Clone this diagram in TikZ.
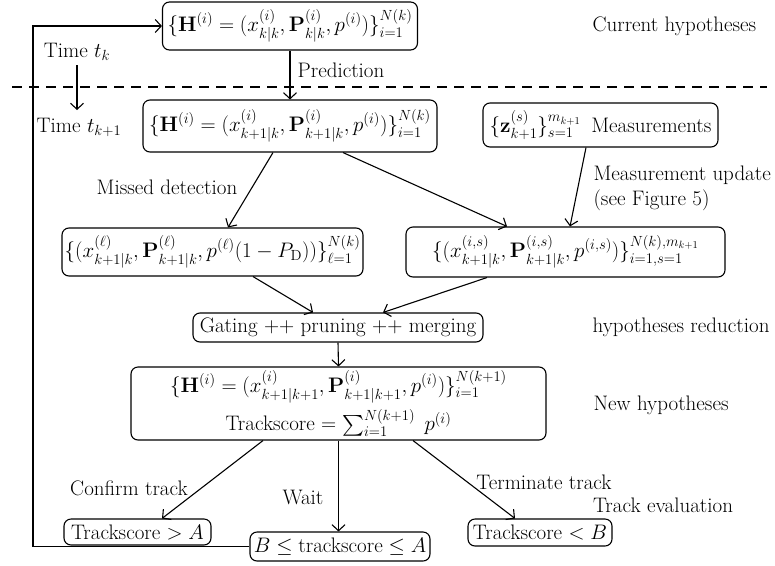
\RequirePackage{fix-cm}
\documentclass[tikz,border=0pt]{standalone}
\usepackage{amsmath}
\usetikzlibrary{arrows.meta,calc}
\begin{document}
\begin{tikzpicture}[x=1pt,y=-1pt,line width=1.1pt,
  every node/.style={font=\fontsize{21}{25}\selectfont},
  box/.style={draw,rounded corners=7pt,inner sep=0pt},
  lbl/.style={inner sep=0pt},
  arr/.style={-{Straight Barb[length=6pt,width=13pt]}}]
\useasboundingbox (0,0) rectangle (775,565);
% boxes
\node[box,minimum width=255pt,minimum height=48pt] (top) at (290,26)
  {$\{\mathbf{H}^{(i)}=(x^{(i)}_{k|k},\mathbf{P}^{(i)}_{k|k},p^{(i)})\}^{N(k)}_{i=1}$};
\node[box,minimum width=294pt,minimum height=52pt] (pred) at (290,126)
  {$\{\mathbf{H}^{(i)}=(x^{(i)}_{k+1|k},\mathbf{P}^{(i)}_{k+1|k},p^{(i)})\}^{N(k)}_{i=1}$};
\node[box,minimum width=235pt,minimum height=44pt] (meas) at (600.5,125)
  {$\{\mathbf{z}^{(s)}_{k+1}\}^{m_{k+1}}_{s=1}$\enspace Measurements};
\node[box,minimum width=301pt,minimum height=48pt] (miss) at (212.5,252)
  {$\{(x^{(\ell)}_{k+1|k},\mathbf{P}^{(\ell)}_{k+1|k},p^{(\ell)}(1-P_{\mathrm{D}}))\}^{N(k)}_{\ell=1}$};
\node[box,minimum width=319pt,minimum height=50pt] (upd) at (565.5,252)
  {$\{(x^{(i,s)}_{k+1|k},\mathbf{P}^{(i,s)}_{k+1|k},p^{(i,s)})\}^{N(k),m_{k+1}}_{i=1,s=1}$};
\node[box,minimum width=290pt,minimum height=29pt] (gate) at (338,327.5)
  {Gating ++ pruning ++ merging};
\node[box,minimum width=415pt,minimum height=73pt,align=center] (new) at (338.5,403.5)
  {$\{\mathbf{H}^{(i)}=(x^{(i)}_{k+1|k+1},\mathbf{P}^{(i)}_{k+1|k+1},p^{(i)})\}^{N(k+1)}_{i=1}$\\[5pt]
   Trackscore $=\sum_{i=1}^{N(k+1)}\;p^{(i)}$};
\node[box,minimum width=147pt,minimum height=26pt] (conf) at (137.5,532) {Trackscore $>A$};
\node[box,minimum width=180pt,minimum height=29pt] (wait) at (340,546.5) {$B\le{}$trackscore${}\le A$};
\node[box,minimum width=144pt,minimum height=27pt] (term) at (540,532.5) {Trackscore $<B$};
% labels
\node[lbl,anchor=west] (lcur) at (592,26) {Current hypotheses};
\node[lbl] (tk) at (77,52) {Time $t_k$};
\node[lbl] (tk1) at (79,127) {Time $t_{k+1}$};
\node[lbl] (lpred) at (341,70) {Prediction};
\node[lbl] (lmiss) at (167,187) {Missed detection};
\node[lbl,anchor=west] (lmu) at (593,175) {Measurement update};
\node[lbl,anchor=west] (lsee) at (593,200) {(see Figure 5)};
\node[lbl,anchor=west] (lred) at (592,327) {hypotheses reduction};
\node[lbl,anchor=west] (lnew) at (593,405) {New hypotheses};
\node[lbl] (lconf) at (129,488) {Confirm track};
\node[lbl] (lwait) at (303,497) {Wait};
\node[lbl] (lterm) at (544,482) {Terminate track};
\node[lbl] (leval) at (663,505) {Track evaluation};
% dashed separator
\coordinate (dl) at (12,87);
\coordinate (dr) at (767,87);
\draw[dash pattern=on 10pt off 7pt] (dl) -- (dr);
% time arrow
\coordinate (ta) at (77,65);
\coordinate (tb) at (77,110);
\draw[arr] (ta) -- (tb);
% connectors
\draw[arr] (top.south) -- (pred.north);
\draw[arr] ([xshift=-17pt]pred.south) -- ([xshift=15.5pt]miss.north);
\draw[arr] ([xshift=53pt]pred.south) -- ([xshift=-58.5pt]upd.north);
\draw[arr] ([xshift=-14.5pt]meas.south) -- ([xshift=4.5pt]upd.north);
\draw[arr] ([xshift=40.5pt]miss.south) -- ([xshift=-25pt]gate.north);
\draw[arr] ([xshift=-78.5pt]upd.south) -- ([xshift=45pt]gate.north);
\draw[arr] (gate.south) -- (new.north);
\draw[arr] ([xshift=-75.5pt]new.south) -- ([xshift=24.5pt]conf.north);
\draw[arr] (new.south) -- (new.south |- wait.north);
\draw[arr] ([xshift=74.5pt]new.south) -- ([xshift=-25pt]term.north);
\coordinate (lp) at (33,546.5);
\draw[arr] (wait.west) -- (lp) |- (top.west);
\end{tikzpicture}
\end{document}
